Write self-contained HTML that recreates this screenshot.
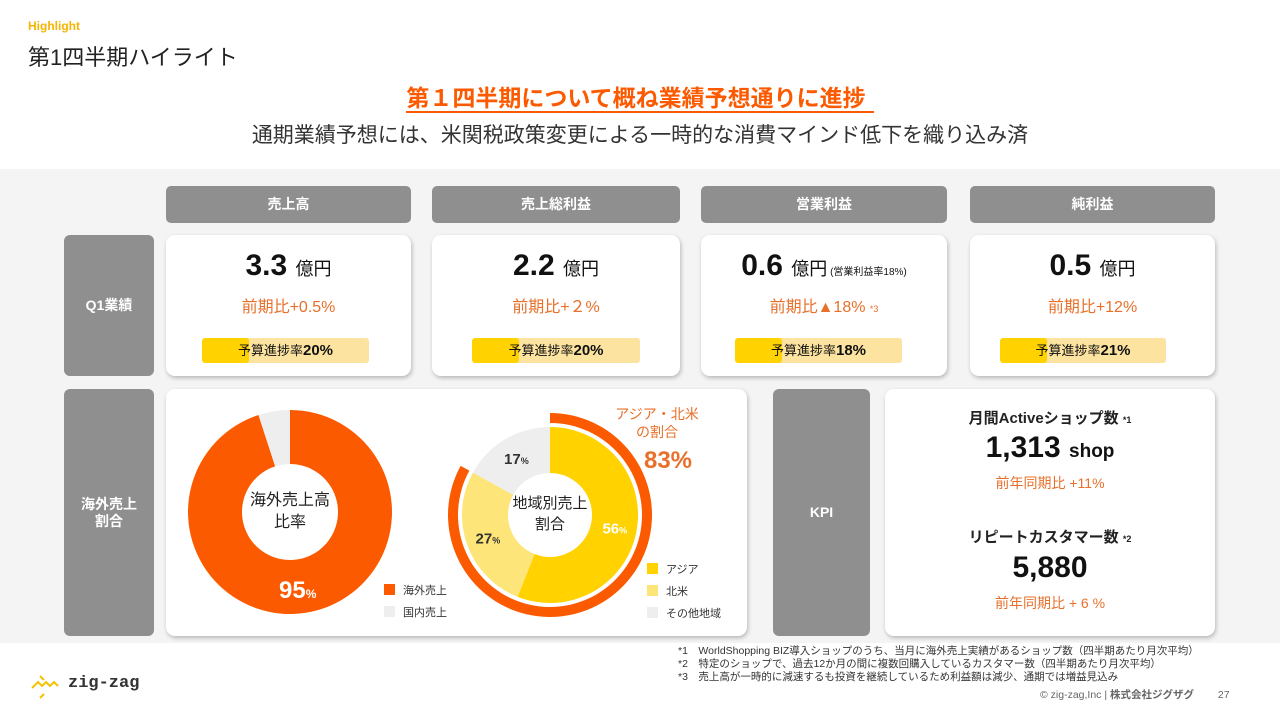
<!DOCTYPE html>
<html><head><meta charset="utf-8">
<style>
*{margin:0;padding:0;box-sizing:border-box}
body{width:1280px;height:720px;position:relative;background:#fff;font-family:"Liberation Sans","Noto Sans CJK JP",sans-serif;overflow:hidden;color:#222}
.a{position:absolute}
.hdr{background:#8f8f8f;color:#fff;font-weight:bold;font-size:14px;text-align:center;line-height:37px;border-radius:5px}
.lbl{background:#8f8f8f;color:#fff;font-weight:bold;font-size:14px;display:flex;align-items:center;justify-content:center;text-align:center;border-radius:6px;line-height:17px}
.card{background:#fff;border-radius:9px;box-shadow:1px 2px 4px rgba(0,0,0,0.25)}
.big{font-size:30px;font-weight:bold;text-align:center;width:100%;top:14px;color:#111}
.big small{font-size:18px;font-weight:normal}
.chg{color:#e8702a;font-size:16px;text-align:center;width:100%;top:58px}
.bar{background:#fde3a0;height:25px;border-radius:3px;overflow:hidden}
.bar .f{position:absolute;left:0;top:0;height:25px;width:47px;background:#ffd200;border-radius:3px}
.bar .t{position:relative;text-align:center;font-size:13px;line-height:25px;color:#111}
.bar b{font-size:15px}
</style></head><body>
<div class="a" style="left:28px;top:19px;font-size:12px;color:#f5b400;font-weight:bold">Highlight</div>
<div class="a" style="left:28px;top:40px;font-size:22px;color:#222">第1四半期ハイライト</div>
<div class="a" style="left:0;width:1280px;top:84px;text-align:center;font-size:23px;font-weight:bold;color:#fc5a00;line-height:28px"><span style="border-bottom:2px solid #fc5a00;padding:0 8px 0 0">第１四半期について概ね業績予想通りに進捗</span></div>
<div class="a" style="left:0;width:1280px;top:119px;text-align:center;font-size:21px;color:#333">通期業績予想には、米関税政策変更による一時的な消費マインド低下を織り込み済</div>

<div class="a" style="left:0;top:169px;width:1280px;height:474px;background:#f4f4f4"></div>

<div class="a hdr" style="left:166px;top:186px;width:245px;height:37px">売上高</div>
<div class="a hdr" style="left:432px;top:186px;width:248px;height:37px">売上総利益</div>
<div class="a hdr" style="left:701px;top:186px;width:246px;height:37px">営業利益</div>
<div class="a hdr" style="left:970px;top:186px;width:245px;height:37px">純利益</div>

<div class="a lbl" style="left:64px;top:235px;width:90px;height:141px">Q1業績</div>

<div class="a card" style="left:166px;top:235px;width:245px;height:141px">
 <div class="a big">3.3 <small>億円</small></div>
 <div class="a chg">前期比+0.5%</div>
 <div class="a bar" style="left:36px;top:103px;width:167px"><div class="f"></div><div class="t">予算進捗率<b>20%</b></div></div>
</div>
<div class="a card" style="left:432px;top:235px;width:248px;height:141px">
 <div class="a big">2.2 <small>億円</small></div>
 <div class="a chg">前期比+２%</div>
 <div class="a bar" style="left:40px;top:103px;width:168px"><div class="f"></div><div class="t">予算進捗率<b>20%</b></div></div>
</div>
<div class="a card" style="left:701px;top:235px;width:246px;height:141px">
 <div class="a big">0.6 <small>億円</small><span style="font-size:10px;font-weight:normal"> (営業利益率18%)</span></div>
 <div class="a chg">前期比▲18% <span style="font-size:9px">*3</span></div>
 <div class="a bar" style="left:34px;top:103px;width:167px"><div class="f"></div><div class="t">予算進捗率<b>18%</b></div></div>
</div>
<div class="a card" style="left:970px;top:235px;width:245px;height:141px">
 <div class="a big">0.5 <small>億円</small></div>
 <div class="a chg">前期比+12%</div>
 <div class="a bar" style="left:30px;top:103px;width:166px"><div class="f"></div><div class="t">予算進捗率<b>21%</b></div></div>
</div>

<div class="a lbl" style="left:64px;top:389px;width:90px;height:247px">海外売上<br>割合</div>
<div class="a card" style="left:166px;top:389px;width:581px;height:247px"></div>
<svg id="charts" class="a" style="left:0;top:0" width="1280" height="720"></svg>

<div class="a lbl" style="left:773px;top:389px;width:97px;height:247px">KPI</div>
<div class="a card" style="left:885px;top:389px;width:330px;height:247px">
 <div class="a" style="left:0;width:100%;top:18px;text-align:center;font-size:15px;font-weight:bold">月間Activeショップ数 <span style="font-size:9px">*1</span></div>
 <div class="a" style="left:0;width:100%;top:42px;text-align:center;font-size:30px;font-weight:bold;color:#111">1,313 <span style="font-size:19px">shop</span></div>
 <div class="a" style="left:0;width:100%;top:84px;text-align:center;font-size:14px;color:#e8702a">前年同期比 +11%</div>
 <div class="a" style="left:0;width:100%;top:137px;text-align:center;font-size:15px;font-weight:bold">リピートカスタマー数 <span style="font-size:9px">*2</span></div>
 <div class="a" style="left:0;width:100%;top:162px;text-align:center;font-size:30px;font-weight:bold;color:#111">5,880</div>
 <div class="a" style="left:0;width:100%;top:204px;text-align:center;font-size:14px;color:#e8702a">前年同期比 + 6 %</div>
</div>

<div class="a" style="left:678px;top:645px;font-size:10.5px;line-height:13px;color:#333;white-space:nowrap">*1　WorldShopping BIZ導入ショップのうち、当月に海外売上実績があるショップ数（四半期あたり月次平均）<br>*2　特定のショップで、過去12か月の間に複数回購入しているカスタマー数（四半期あたり月次平均）<br>*3　売上高が一時的に減速するも投資を継続しているため利益額は減少、通期では増益見込み</div>
<div class="a" style="left:1040px;top:687px;font-size:10.5px;color:#666;white-space:nowrap">© zig-zag,Inc | <b>株式会社ジグザグ</b>　　 27</div>
<div class="a" style="left:30px;top:672px;width:110px;height:28px">
 <svg width="30" height="28" style="position:absolute;left:0;top:0"><polyline points="2,16 8,10 12,14 16,10 20,14 24,10 28,14" fill="none" stroke="#f5c400" stroke-width="2"/><polyline points="10,4 14,8" stroke="#f5c400" stroke-width="2"/><polyline points="10,26 14,22" stroke="#f5c400" stroke-width="2"/></svg>
 <span style="position:absolute;left:38px;top:2px;font-family:'Liberation Mono',monospace;font-size:17px;color:#333;font-weight:bold">zig-zag</span>
</div>

<script>
const d1Labels=['海外売上','国内売上'];
const d1Values=[95,5];
const d1Colors=['#fc5a00','#eeeeee'];
const d2Labels=['アジア','北米','その他地域'];
const d2Values=[56,27,17];
const d2Colors=['#ffd200','#fde57a','#eeeeee'];
const ringValue=[83];

const svg=document.getElementById('charts');
const NS='http://www.w3.org/2000/svg';
function pt(cx,cy,r,a){const t=(a-90)*Math.PI/180;return [cx+r*Math.cos(t),cy+r*Math.sin(t)];}
function arc(cx,cy,r0,r1,a0,a1){
 const l=a1-a0>180?1:0;
 const p1=pt(cx,cy,r1,a0),p2=pt(cx,cy,r1,a1),p3=pt(cx,cy,r0,a1),p4=pt(cx,cy,r0,a0);
 return `M${p1[0]},${p1[1]}A${r1},${r1} 0 ${l} 1 ${p2[0]},${p2[1]}L${p3[0]},${p3[1]}A${r0},${r0} 0 ${l} 0 ${p4[0]},${p4[1]}Z`;
}
function txt(x,y,s,size,fill,weight,name,anchor){
 const t=document.createElementNS(NS,'text');
 t.setAttribute('x',x);t.setAttribute('y',y);t.setAttribute('font-size',size);t.setAttribute('fill',fill);
 t.setAttribute('font-weight',weight||'normal');t.setAttribute('text-anchor',anchor||'middle');
 t.setAttribute('font-family','Liberation Sans, Noto Sans CJK JP, sans-serif');
 
 
 t.textContent=s;svg.appendChild(t);return t;
}
function donut(cx,cy,r0,r1,vals,cols,names){
 const tot=vals.reduce((a,b)=>a+b,0);let a=0;
 vals.forEach((v,i)=>{
  const a1=a+v/tot*360;
  const p=document.createElementNS(NS,'path');
  p.setAttribute('d',arc(cx,cy,r0,r1,a,a1));p.setAttribute('fill',cols[i]);
  
  
  svg.appendChild(p);a=a1;
 });
}
const c1=[290,512];
donut(c1[0],c1[1],48,102,d1Values,d1Colors,['overseas','domestic']);
txt(c1[0],505,'海外売上高',16,'#222','normal','donut1-center-label');
txt(c1[0],527,'比率',16,'#222','normal','donut1-center-label-2');
const m1=pt(c1[0],c1[1],75,d1Values[0]/2*360/100);
const t1=txt(m1[0]-4,m1[1]+12,d1Values[0],24,'#fff','bold','donut1-value');
const s1=document.createElementNS(NS,'tspan');s1.setAttribute('font-size','12');s1.textContent='%';t1.appendChild(s1);
d1Labels.forEach((l,i)=>{
 const r=document.createElementNS(NS,'rect');
 r.setAttribute('x',384);r.setAttribute('y',584+i*22);r.setAttribute('width',11);r.setAttribute('height',11);r.setAttribute('fill',d1Colors[i]);
 
 
 svg.appendChild(r);
 txt(403,594+i*22,l,11,'#333','normal','legend1-entry','start');
});
const c2=[550,515];
donut(c2[0],c2[1],42,88,d2Values,d2Colors,['asia','north-america','other']);
const ring=document.createElementNS(NS,'path');
ring.setAttribute('d',arc(c2[0],c2[1],92,102,0,ringValue[0]*3.6));
ring.setAttribute('fill','#fc5a00');


svg.appendChild(ring);
txt(c2[0],508,'地域別売上',15,'#222','normal','donut2-center-label');
txt(c2[0],529,'割合',15,'#222','normal','donut2-center-label-2');
let acc=0;const lblCols=['#fff','#333','#333'];
d2Values.forEach((v,i)=>{
 const mid=(acc+v/2)*3.6;acc+=v;
 const p=pt(c2[0],c2[1],66,mid);
 const t=txt(p[0],p[1]+6,v,15,lblCols[i],'bold','donut2-value');
 const s=document.createElementNS(NS,'tspan');s.setAttribute('font-size','9');s.textContent='%';t.appendChild(s);
});
d2Labels.forEach((l,i)=>{
 const r=document.createElementNS(NS,'rect');
 r.setAttribute('x',647);r.setAttribute('y',563+i*22);r.setAttribute('width',11);r.setAttribute('height',11);r.setAttribute('fill',d2Colors[i]);
 
 
 svg.appendChild(r);
 txt(666,573+i*22,l,11,'#333','normal','legend2-entry','start');
});
txt(657,419,'アジア・北米',14,'#e8702a','normal','ring-label');
txt(657,437,'の割合',14,'#e8702a','normal','ring-label-2');
txt(668,468,ringValue[0]+'%',24,'#e8702a','bold','ring-value');
</script>
</body></html>
